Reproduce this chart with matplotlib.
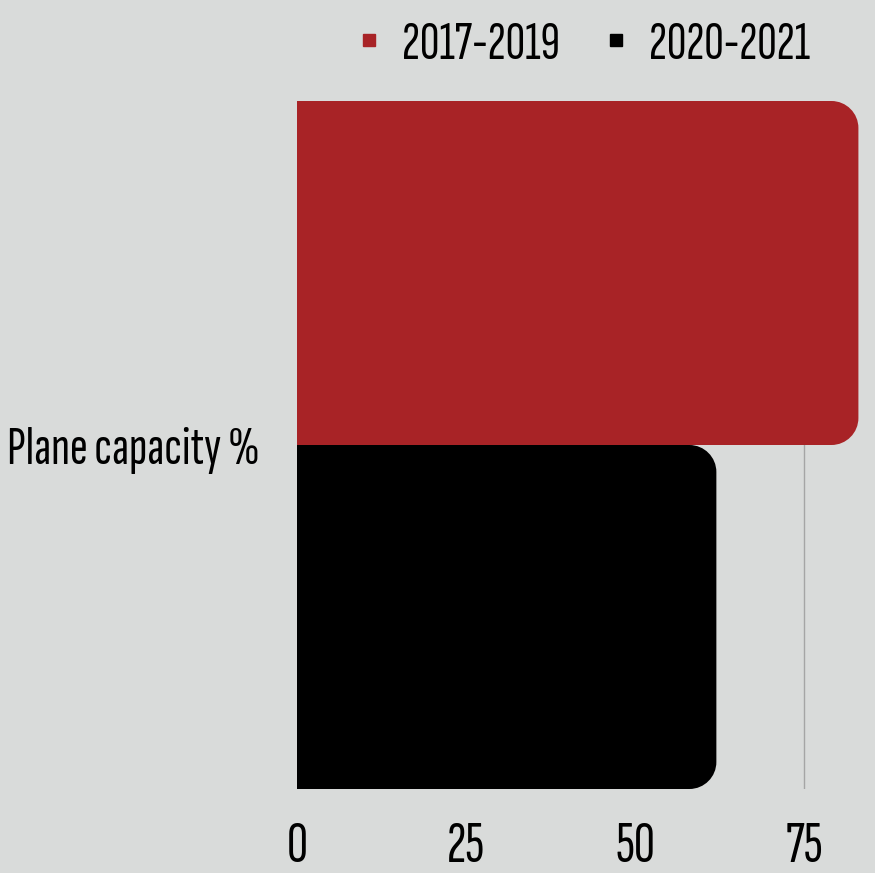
import numpy as np
import matplotlib
matplotlib.use('Agg')
import matplotlib.pyplot as plt
from matplotlib.path import Path
from matplotlib.patches import PathPatch
from matplotlib.lines import Line2D

# data
category = 'Plane capacity %'
series = ['2017-2019', '2020-2021']
values = [83, 62]
colors = ['#a82326', '#000000']
xticks = [0, 25, 50, 75]

plt.rcParams['font.family'] = ['Sofia Sans Extra Condensed', 'DejaVu Sans']
BG = '#d9dbda'

W, H = 875, 873
fig = plt.figure(figsize=(W / 100, H / 100), dpi=100, facecolor=BG)
ax = fig.add_axes([297 / W, 84 / H, 575 / W, 688 / H], facecolor=BG)

XMAX = 575 / 6.764
bh = 0.4
ax.set_xlim(0, XMAX)
ax.set_ylim(-bh, bh)


def rounded_bar(ax, y0, height, width, color, r_px=27):
    # bar with round right corners, radius in pixels
    bbox = ax.get_window_extent()
    x0d, x1d = ax.get_xlim()
    y0d, y1d = ax.get_ylim()
    rx = min(r_px * (x1d - x0d) / bbox.width, width)
    ry = r_px * (y1d - y0d) / bbox.height
    k = 0.5523
    x1 = width
    y1 = y0 + height
    verts = [(0, y0), (x1 - rx, y0),
             (x1 - rx + k * rx, y0), (x1, y0 + ry - k * ry), (x1, y0 + ry),
             (x1, y1 - ry),
             (x1, y1 - ry + k * ry), (x1 - rx + k * rx, y1), (x1 - rx, y1),
             (0, y1), (0, y0)]
    codes = [Path.MOVETO, Path.LINETO,
             Path.CURVE4, Path.CURVE4, Path.CURVE4,
             Path.LINETO,
             Path.CURVE4, Path.CURVE4, Path.CURVE4,
             Path.LINETO, Path.CLOSEPOLY]
    ax.add_patch(PathPatch(Path(verts, codes), facecolor=color,
                           edgecolor='none', zorder=3))


# red on top, black below
offsets = [0, -bh]
for v, c, off in zip(values, colors, offsets):
    rounded_bar(ax, off, bh, v, c)

ax.set_xticks(xticks)
ax.set_xticklabels([str(t) for t in xticks])
ax.set_yticks([0])
ax.set_yticklabels([category])
ax.tick_params(axis='x', length=0, pad=24, labelsize=42)
ax.tick_params(axis='y', length=0, pad=27, labelsize=39)
for s in ax.spines.values():
    s.set_visible(False)
ax.grid(axis='x', color='#a5a5a5', linewidth=1, zorder=0)
ax.set_axisbelow(True)

handles = [Line2D([], [], marker='s', linestyle='none', color=c, markersize=8.5)
           for c in colors]
fig.legend(handles, series, loc='center right', bbox_to_anchor=(810 / W, 1 - 45 / H),
           ncol=2, frameon=False, fontsize=39, handlelength=0.5,
           handletextpad=0.35, columnspacing=0.8, borderpad=0, borderaxespad=0)

fig.savefig('out.png', dpi=100, facecolor=BG)
